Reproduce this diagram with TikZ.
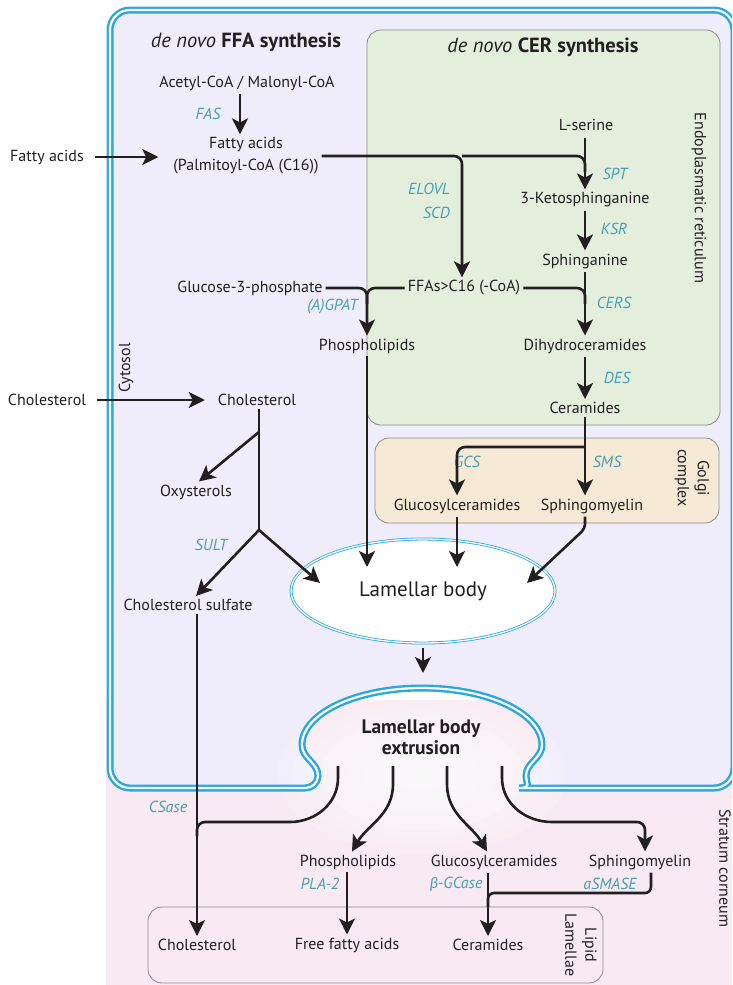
\documentclass[tikz,border=0pt]{standalone}
\usepackage{fontspec}
\setmainfont{PT Sans}
\newfontfamily\grk{Carlito}
\usetikzlibrary{arrows.meta,shapes.geometric}
\definecolor{cytofill}{RGB}{239,237,251}
\definecolor{erfill}{RGB}{227,239,220}
\definecolor{golgifill}{RGB}{246,233,213}
\definecolor{scfill}{RGB}{248,233,242}
\definecolor{membr}{RGB}{41,168,224}
\definecolor{enz}{RGB}{70,160,178}
\definecolor{ink}{RGB}{35,31,32}
\definecolor{boxline}{RGB}{140,140,140}
\def\cellpath{[rounded corners=20] (305,788) -- (110,788) -- (110,10) -- (734,10) -- (734,788) -- (539,788)
  [sharp corners] to[out=180,in=-90] (526,776) to[out=90,in=-90] (542,745)
  arc[start angle=0, end angle=180, x radius=120pt, y radius=57pt]
  to[out=-90,in=90] (318,776) to[out=-90,in=0] (305,788) -- cycle}

\begin{document}
\begin{tikzpicture}[x=1pt, y=-1pt,
    every node/.style={font=\fontsize{16}{18}\selectfont, text=ink, inner sep=3pt},
    enzyme/.style={font=\fontsize{16}{24}\selectfont\itshape, text=enz},
    pathline/.style={draw=ink, line width=2.6pt},
    arr/.style={pathline, -{Stealth[length=16pt, width=16pt, inset=4pt]}},
    membrane/.style={draw=membr, line width=2.4pt, double=white, double distance=2.2pt},
    compart/.style={draw=boxline, line width=0.8pt, rounded corners=14pt},
    sidelabel/.style={rotate=-90, align=center, font=\fontsize{16}{20}\selectfont}]
  \useasboundingbox (0,0) rectangle (732,985);
  \clip (0,0) rectangle (732,985);

  % stratum corneum and cell
  \fill[scfill] (106,700) rectangle (732,985);
  \fill[cytofill] \cellpath;
  \foreach \k in {10,...,1}
    \fill[white, opacity=0.15] (422,774) ellipse [x radius=14.5*\k, y radius=8*\k];
  \draw[compart, fill=erfill] (367,30) rectangle (720,425);
  \draw[compart, fill=golgifill] (375,438) rectangle (719,523);
  \draw[compart] (148,907) rectangle (603,983);
  \draw[membrane] \cellpath;

  % compartment labels
  \node[font=\fontsize{20.5}{22}\selectfont] (ffatitle) at (246,42) {\textit{de novo} \textbf{FFA synthesis}};
  \node[font=\fontsize{20.5}{22}\selectfont] (certitle) at (543,47) {\textit{de novo} \textbf{CER synthesis}};
  \node[sidelabel] (erlab) at (699,198) {Endoplasmatic reticulum};
  \node[sidelabel] (golgilab) at (692,478) {Golgi\\complex};
  \node[sidelabel] (lllab) at (581,945) {Lipid\\Lamellae};
  \node[sidelabel] (sclab) at (725,868) {Stratum corneum};
  \node[rotate=90] (cytlab) at (126,368) {Cytosol};

  % de novo FFA synthesis
  \node (acoa) at (247,83) {Acetyl-CoA / Malonyl-CoA};
  \node[align=center, font=\fontsize{16}{22}\selectfont] (fa) at (246,156) {Fatty acids\\(Palmitoyl-CoA (C16))};
  \node[enzyme] (fas) at (208,114) {FAS};
  \node (faout) at (47,157) {Fatty acids};
  \draw[arr] ([xshift=-7]acoa.south) -- ([xshift=-6]fa.north);
  \draw[arr, shorten <=8pt, shorten >=12pt] (faout.east) -- (faout.east -| fa.west);

  % de novo CER synthesis
  \node (serine) at (586,125) {L-serine};
  \node (keto) at (585,200) {3-Ketosphinganine};
  \node (sphg) at (585,261) {Sphinganine};
  \node (dhcer) at (585,346) {Dihydroceramides};
  \node (cer) at (585,408) {Ceramides};
  \node[enzyme] (spt) at (615,174) {SPT};
  \node[enzyme] (ksr) at (614,229) {KSR};
  \node[enzyme] (cers) at (614,303) {CERS};
  \node[enzyme] (des) at (617,378) {DES};
  \draw[arr, shorten <=4pt] (keto.north |- serine.south) -- (keto.north);
  \draw[arr] (keto) -- (sphg);
  \draw[arr] (sphg) -- (dhcer);
  \draw[arr] (dhcer) -- (cer);

  % elongation and phospholipids
  \node (ffa) at (464,288) {FFAs>C16 (-CoA)};
  \node[enzyme, align=right, anchor=east] (elovl) at (453,201) {ELOVL\\SCD};
  \node (g3p) at (250,288) {Glucose-3-phosphate};
  \node[enzyme, anchor=east] (agpat) at (361,307) {(A)GPAT};
  \node (pl) at (367,346) {Phospholipids};
  \coordinate (elj) at (462,156);
  \draw[arr, rounded corners=8] (fa.east) -- (elj) -- (elj |- ffa.north);
  \draw[pathline, rounded corners=8] (elj) -- (elj -| keto.north) -- ++(0,16);
  \draw[arr, rounded corners=8] (ffa.west) -- (ffa.west -| pl.north) -- (pl.north);
  \draw[pathline, rounded corners=8] (g3p.east) -- (g3p.east -| pl.north) -- ++(0,16);
  \draw[pathline, rounded corners=8] (ffa.east) -- (ffa.east -| dhcer.north) -- ++(0,16);

  % Golgi
  \node (gluc) at (457,506) {Glucosylceramides};
  \node (sm) at (592,506) {Sphingomyelin};
  \node[enzyme] (gcs) at (467,462) {GCS};
  \node[enzyme] (sms) at (607,462) {SMS};
  \coordinate (gcsj) at (585,447);
  \draw[arr] (cer.south) -- (cer.south |- sm.north);
  \draw[arr, rounded corners=8] (gcsj) -- (gcsj -| gluc.north) -- (gluc.north);

  % cholesterol
  \node (cholout) at (47,400) {Cholesterol};
  \node (chol) at (257,400) {Cholesterol};
  \node (oxy) at (196,492) {Oxysterols};
  \node (cs) at (188,605) {Cholesterol sulfate};
  \node[enzyme] (sult) at (211,545) {SULT};
  \coordinate (oxj) at (259,432);
  \coordinate (sultj) at (259,530);
  \draw[arr, shorten <=8pt, shorten >=10pt] (cholout.east) -- (chol.west);
  \draw[pathline] (chol.south -| sultj) -- (sultj);
  \draw[arr] (oxj) -- ([xshift=3]oxy.north);
  \draw[arr] (sultj) -- ([xshift=8]cs.north);

  % lamellar body
  \node[draw=membr, double=white, double distance=1.3pt, line width=0.8pt, fill=white, ellipse,
    minimum width=264, minimum height=104, font=\fontsize{21}{23}\selectfont] (lb) at (423,591) {Lamellar body};
  \coordinate (lbtop) at (423,567);
  \coordinate (lbin1) at (320,583);
  \coordinate (lbin3) at (527,583);
  \coordinate (lbx) at (423,673);
  \draw[arr] (sultj) -- (lbin1);
  \draw[arr] (pl.south) -- (pl.south |- lbtop);
  \draw[arr] (gluc.south) -- (gluc.south |- lbtop);
  \draw[arr, rounded corners=5] (cer.south |- sm.south) -- ++(0,12) -- (lbin3);
  \draw[arr] (lb.south) ++(0,5) -- (lbx);

  % extrusion into the stratum corneum
  \node[align=center, font=\fontsize{19.5}{21}\selectfont\bfseries] (ext) at (421,737) {Lamellar body\\extrusion};
  \node (pl2) at (348,862) {Phospholipids};
  \node (gl2) at (494,862) {Glucosylceramides};
  \node (sm2) at (640,862) {Sphingomyelin};
  \node (chol2) at (197,945) {Cholesterol};
  \node (ffa2) at (347,945) {Free fatty acids};
  \node (cer2) at (488,945) {Ceramides};
  \node[enzyme] (csase) at (168,807) {CSase};
  \node[enzyme] (pla) at (320,884) {PLA-2};
  \node[enzyme] (bgc) at (456,884) {{\grk β}-GCase};
  \node[enzyme] (asm) at (610,884) {aSMASE};
  \coordinate (d1) at (338,766);
  \coordinate (d2) at (393,766);
  \coordinate (d3) at (447,766);
  \coordinate (d4) at (502,766);
  \coordinate (csj) at (197,822);
  \coordinate (smj) at (645,822);
  \coordinate (asmj) at (488,893);
  \draw[arr] (chol2.north |- cs.south) -- (chol2.north);
  \draw[pathline] (d1) -- ++(0,12) to[out=-90,in=0] (290,822) [rounded corners=8] -- (csj) -- ++(0,14);
  \draw[arr] (d2) -- ++(0,18) to[out=-90,in=60] ([xshift=4]pl2.north);
  \draw[arr] (d3) -- ++(0,18) to[out=-90,in=120] ([xshift=-7]gl2.north);
  \draw[arr] (d4) -- ++(0,12) to[out=-90,in=180] (552,822) [rounded corners=8] -- (smj) -- ([xshift=5]sm2.north);
  \draw[arr] (ffa2.north |- pl2.south) -- (ffa2.north);
  \draw[arr] (cer2.north |- gl2.south) -- (cer2.north);
  \draw[pathline, rounded corners=6] ([xshift=11]sm2.south) |- (asmj) -- ++(0,14);
\end{tikzpicture}
\end{document}
